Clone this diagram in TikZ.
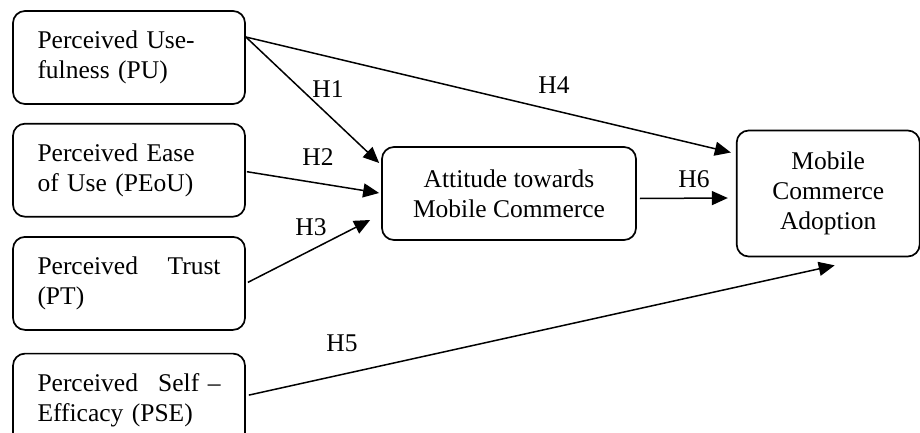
\documentclass[tikz,border=0pt]{standalone}
\usepackage{fontspec}
\setmainfont{Liberation Serif}
\usepackage{tikz}
\usetikzlibrary{positioning,arrows.meta}

\begin{document}
\begin{tikzpicture}[x=1pt, y=1pt,
    factor/.style={
        draw=black,
        rectangle,
        line width=1.7pt,
        text width=183pt,
        inner xsep=0pt,
        minimum width=232pt,
        minimum height=93pt,
        align=left,
        font=\fontsize{25.5}{30}\selectfont,
        rounded corners=12pt
    },
    construct/.style={
        draw=black,
        rectangle,
        line width=1.7pt,
        align=center,
        font=\fontsize{25.5}{30}\selectfont,
        rounded corners=12pt
    },
    arrow/.style={
        ->,
        >={Triangle[length=16pt,width=14pt]},
        line width=1.5pt,
        black
    },
    hlabel/.style={
        font=\fontsize{25.5}{30}\selectfont,
        inner sep=0pt
    }
]
    \useasboundingbox (0,0) rectangle (920,432);

    % Left column of perceived factors
    \node[factor] (pu) at (129,374.5) {Perceived Use-\\fulness (PU)};
    \node[factor] (peou) [below=18pt of pu] {Perceived Ease\\of Use (PEoU)};
    \node[factor] (pt) [below=18.5pt of peou] {Perceived\hfill Trust\\(PT)};
    \node[factor] (pse) [below=22pt of pt] {Perceived\hfill Self --\\Efficacy (PSE)};

    % Attitude and adoption
    \node[construct, minimum width=254pt, minimum height=93pt] (attitude) at (509,238.5)
        {Attitude towards\\Mobile Commerce};
    \node[construct, minimum width=183pt, minimum height=126pt] (adoption) [right=99pt of attitude]
        {Mobile\\Commerce\\Adoption};

    % Hypotheses
    \draw[arrow] ([yshift=20.5pt]pu.east) -- ([xshift=-2pt,yshift=30.5pt]attitude.west);
    \draw[arrow] ([yshift=20.5pt]pu.east) -- ([xshift=-5pt,yshift=41pt]adoption.west);
    \draw[arrow] ([xshift=1pt,yshift=-1.5pt]peou.east) -- ([xshift=-2pt,yshift=0.5pt]attitude.west);
    \draw[arrow] ([xshift=2pt,yshift=1pt]pt.east) -- ([xshift=-11pt,yshift=-26.5pt]attitude.west);
    \draw[arrow] ([xshift=3pt,yshift=-5pt]attitude.east) -- ([xshift=-8pt,yshift=-4.5pt]adoption.west);
    \draw[arrow] ([xshift=3pt,yshift=5pt]pse.east) -- ([xshift=6.5pt,yshift=-8pt]adoption.south);

    % Hypothesis labels
    \node[hlabel] (h1) at (328,343) {H1};
    \node[hlabel] (h2) at (318,275) {H2};
    \node[hlabel] (h3) at (311,205) {H3};
    \node[hlabel] (h4) at (554,347) {H4};
    \node[hlabel] (h5) at (342,89) {H5};
    \node[hlabel] (h6) at (694,253) {H6};
\end{tikzpicture}
\end{document}
